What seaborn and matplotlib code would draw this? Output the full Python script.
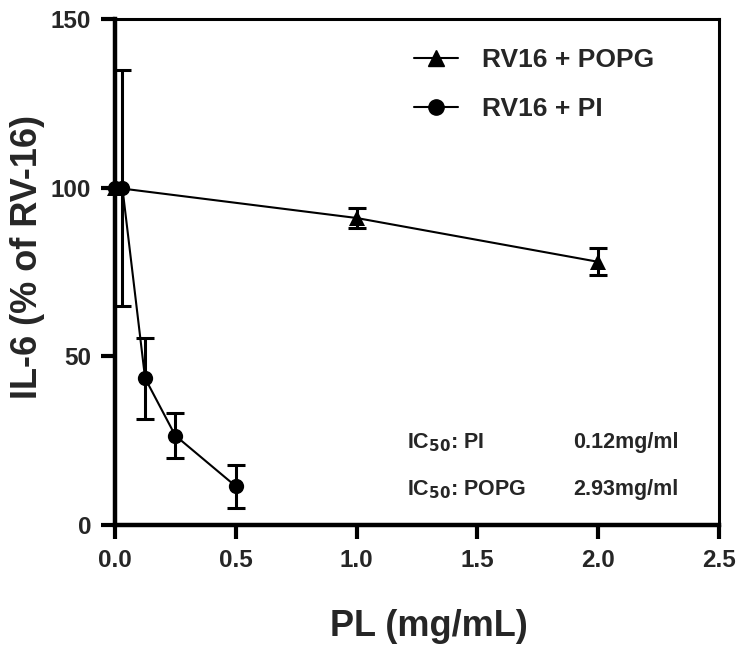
import matplotlib
matplotlib.use("Agg")
import matplotlib.pyplot as plt
from matplotlib.lines import Line2D
import pandas as pd
import seaborn as sns

# PL concentration (mg/mL) and IL-6 response (% of RV-16)
pi_x = [0, 0.031, 0.125, 0.25, 0.5]
pi_y = [100, 100, 43.5, 26.5, 11.5]
pi_err = [0, 35, 12, 6.7, 6.4]

popg_x = [0, 1.0, 2.0]
popg_y = [100, 91, 78]
popg_err = [0, 3, 4]

ic50_rows = [("PI", "0.12mg/ml"), ("POPG", "2.93mg/ml")]

sns.set_theme(style="white")
plt.rcParams['font.family'] = ['Liberation Sans', 'DejaVu Sans']
plt.rcParams['font.weight'] = 'bold'

df = pd.concat([
    pd.DataFrame({"PL": popg_x, "IL6": popg_y, "grp": "RV16 + POPG"}),
    pd.DataFrame({"PL": pi_x, "IL6": pi_y, "grp": "RV16 + PI"}),
])

fig = plt.figure(figsize=(7.46, 6.53), dpi=100)
ax = fig.add_axes([0.154, 0.196, 0.81, 0.775])

sns.lineplot(data=df, x="PL", y="IL6", hue="grp", style="grp",
             markers={"RV16 + POPG": "^", "RV16 + PI": "o"}, dashes=False,
             palette={"RV16 + POPG": "black", "RV16 + PI": "black"},
             markersize=11, linewidth=1.5, markeredgewidth=0,
             ax=ax, legend=False, clip_on=False, zorder=3)

ax.errorbar(pi_x, pi_y, yerr=pi_err, fmt="none", ecolor="black",
            elinewidth=2.2, capsize=6.5, capthick=2.2, clip_on=False, zorder=2)
ax.errorbar(popg_x, popg_y, yerr=popg_err, fmt="none", ecolor="black",
            elinewidth=2.2, capsize=6.5, capthick=2.2, clip_on=False, zorder=2)

ax.set_xlim(0, 2.5)
ax.set_ylim(0, 150)
ax.set_xticks([0, 0.5, 1.0, 1.5, 2.0, 2.5])
ax.set_xticklabels(["0.0", "0.5", "1.0", "1.5", "2.0", "2.5"])
ax.set_yticks([0, 50, 100, 150])

for s in ["left", "bottom"]:
    ax.spines[s].set_linewidth(3.2)
    ax.spines[s].set_color("black")
for s in ["top", "right"]:
    ax.spines[s].set_linewidth(2.2)
    ax.spines[s].set_color("black")

ax.tick_params(axis="both", which="major", direction="out", length=10,
               width=3, color="black", labelsize=17.5, pad=7,
               bottom=True, left=True)
for lab in ax.get_xticklabels() + ax.get_yticklabels():
    lab.set_fontweight("bold")

ax.set_xlabel("PL (mg/mL)", fontsize=26, fontweight="bold")
ax.set_ylabel("IL-6 (% of RV-16)", fontsize=26, fontweight="bold")
ax.xaxis.set_label_coords(0.52, -0.165)
ax.yaxis.set_label_coords(-0.115, 0.53)

handles = [
    Line2D([], [], color="black", marker="^", markersize=11, linewidth=1.5),
    Line2D([], [], color="black", marker="o", markersize=11, linewidth=1.5),
]
ax.legend(handles, ["RV16 + POPG", "RV16 + PI"], loc="upper left",
          bbox_to_anchor=(0.455, 0.99), frameon=False, handlelength=1.7,
          handletextpad=0.9, labelspacing=0.95,
          prop={"size": 19, "weight": "bold"})

for i, (name, val) in enumerate(ic50_rows):
    yy = 22.8 - i * 13.9
    ax.text(1.21, yy, "IC$_{\\mathbf{50}}$: " + name, fontsize=15.5, fontweight="bold")
    ax.text(1.895, yy, val, fontsize=15.5, fontweight="bold")

fig.savefig("out.png", dpi=100)
